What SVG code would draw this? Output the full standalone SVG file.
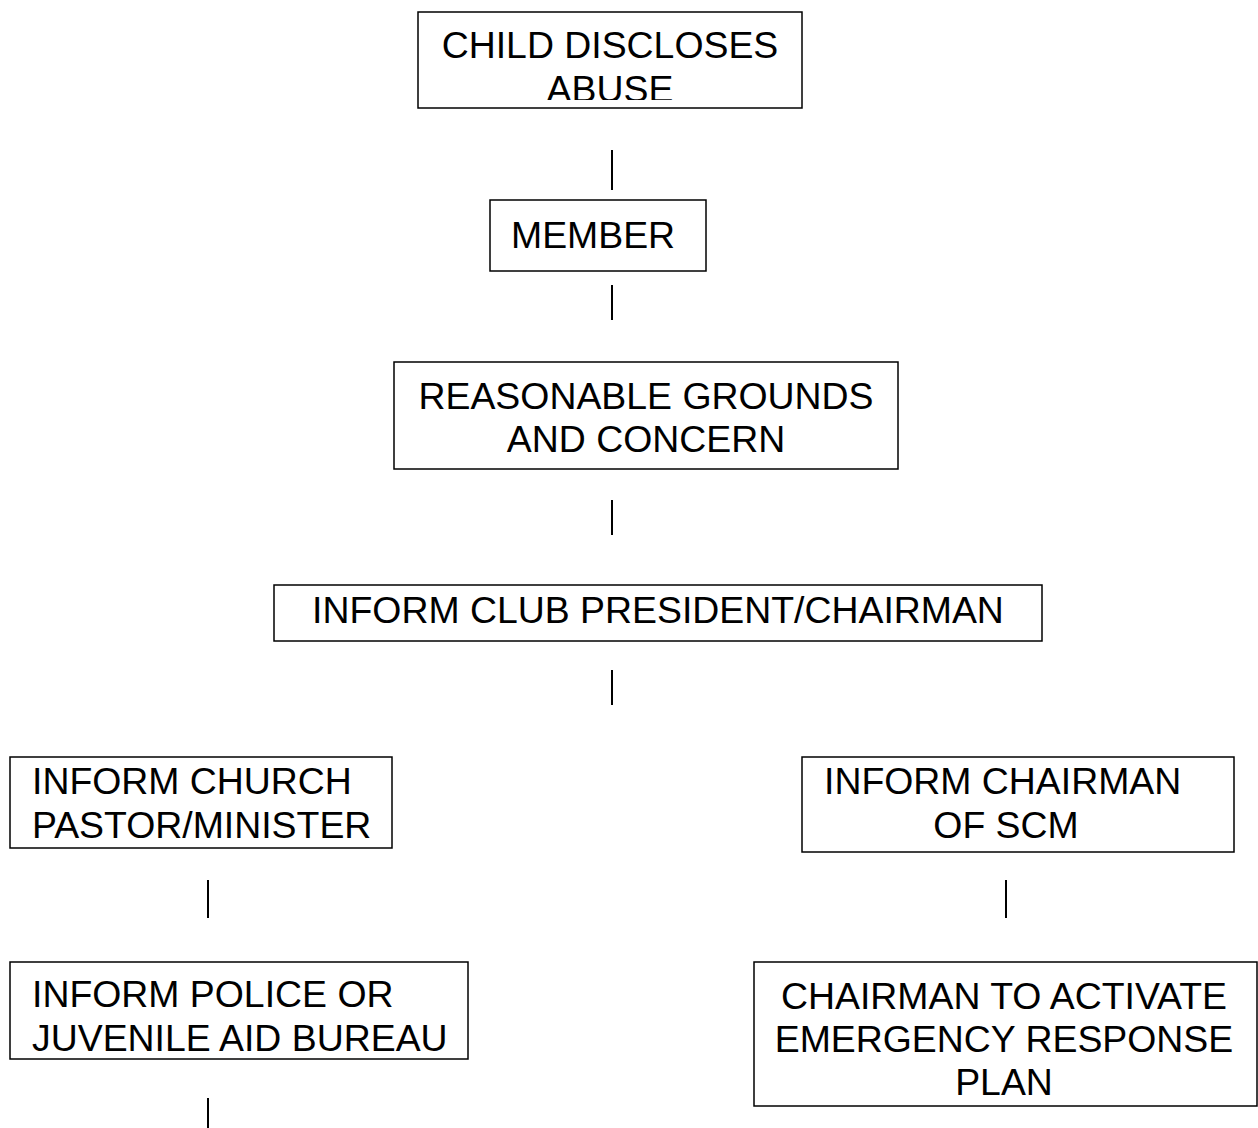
<svg xmlns="http://www.w3.org/2000/svg" width="1258" height="1128" viewBox="0 0 1258 1128">
<style>
.box{fill:#fff;stroke:#000;stroke-width:1.5}
.t{font-family:"Liberation Sans",Arial,sans-serif;font-size:37.4px;fill:#000}
.m{text-anchor:middle}
.c{stroke:#000;stroke-width:2}
</style>
<defs>
<clipPath id="clip1"><rect x="418" y="12" width="384" height="88"/></clipPath>
<clipPath id="clip2"><rect x="10" y="962" width="458" height="89"/></clipPath>
</defs>
<rect width="1258" height="1128" fill="#fff"/>
<g id="connectors">
<line class="c" x1="612" y1="150" x2="612" y2="190"/>
<line class="c" x1="612" y1="285" x2="612" y2="320"/>
<line class="c" x1="612" y1="500" x2="612" y2="535"/>
<line class="c" x1="612" y1="670" x2="612" y2="705"/>
<line class="c" x1="208" y1="880" x2="208" y2="918"/>
<line class="c" x1="1006" y1="880" x2="1006" y2="918"/>
<line class="c" x1="208" y1="1098" x2="208" y2="1128"/>
</g>
<g id="n-child">
<rect class="box" x="418" y="12" width="384" height="96"/>
<g clip-path="url(#clip1)">
<text class="t m" x="610" y="58">CHILD DISCLOSES</text>
<text class="t m" x="610" y="102">ABUSE</text>
</g>
</g>
<g id="n-member">
<rect class="box" x="490" y="200" width="216" height="71"/>
<text class="t" x="511" y="248">MEMBER</text>
</g>
<g id="n-grounds">
<rect class="box" x="394" y="362" width="504" height="107"/>
<text class="t m" x="646" y="409">REASONABLE GROUNDS</text>
<text class="t m" x="646" y="452">AND CONCERN</text>
</g>
<g id="n-president">
<rect class="box" x="274" y="585" width="768" height="56"/>
<text class="t m" x="658" y="623">INFORM CLUB PRESIDENT/CHAIRMAN</text>
</g>
<g id="n-pastor">
<rect class="box" x="10" y="757" width="382" height="91"/>
<text class="t" x="32" y="794">INFORM CHURCH</text>
<text class="t" x="32" y="838">PASTOR/MINISTER</text>
</g>
<g id="n-scm">
<rect class="box" x="802" y="757" width="432" height="95"/>
<text class="t" x="824" y="794">INFORM CHAIRMAN</text>
<text class="t m" x="1006" y="838">OF SCM</text>
</g>
<g id="n-police">
<rect class="box" x="10" y="962" width="458" height="97"/>
<g clip-path="url(#clip2)">
<text class="t" x="32" y="1007">INFORM POLICE OR</text>
<text class="t" x="32" y="1051">JUVENILE AID BUREAU</text>
</g>
</g>
<g id="n-plan">
<rect class="box" x="754" y="962" width="503" height="144"/>
<text class="t m" x="1004" y="1009">CHAIRMAN TO ACTIVATE</text>
<text class="t m" x="1004" y="1052">EMERGENCY RESPONSE</text>
<text class="t m" x="1004" y="1095">PLAN</text>
</g>
</svg>
